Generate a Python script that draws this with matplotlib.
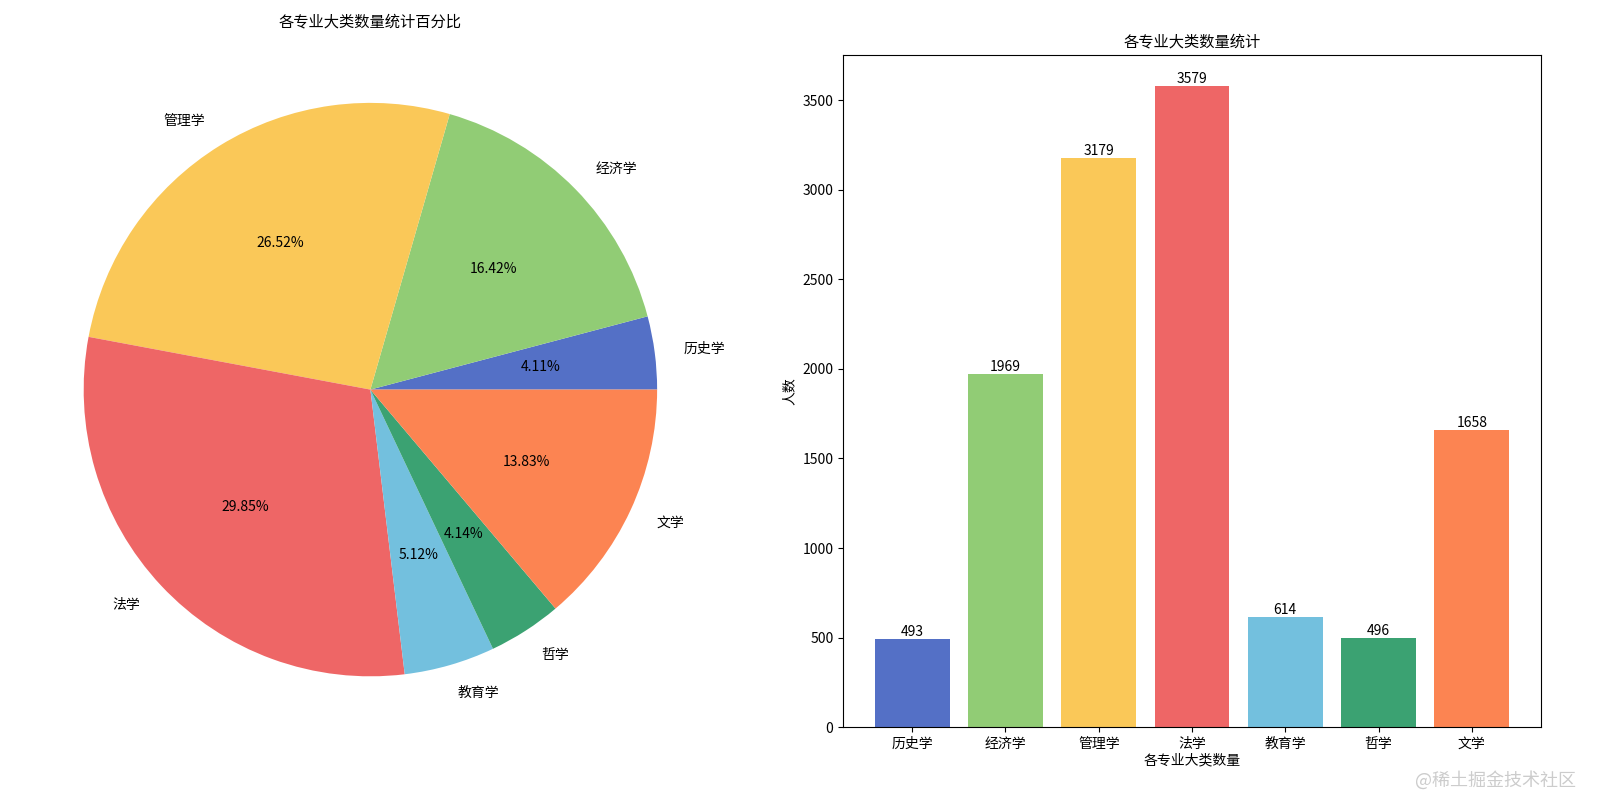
import matplotlib.pyplot as plt

plt.rcParams['font.family'] = 'Noto Sans CJK SC'

categories = ['历史学', '经济学', '管理学', '法学', '教育学', '哲学', '文学']
counts = [493, 1969, 3179, 3579, 614, 496, 1658]
colors = ['#5470c6', '#91cc75', '#fac858', '#ee6666', '#73c0de', '#3ba272', '#fc8452']

fig = plt.figure(figsize=(16, 8), dpi=100)

# 饼图
ax1 = fig.add_axes([0.0075, 0.065, 0.448, 0.896])
ax1.pie(counts, labels=categories, colors=colors, autopct='%.2f%%',
        textprops={'fontsize': 10})
ax1.set_aspect('equal')
fig.text(370 / 1600, 1 - 22 / 800, '各专业大类数量统计百分比', ha='center', va='center', fontsize=11)

# 柱状图
ax2 = fig.add_axes([0.527, 0.091, 0.436, 0.84])
bars = ax2.bar(categories, counts, color=colors)
for b, v in zip(bars, counts):
    ax2.text(b.get_x() + b.get_width() / 2, v, str(v), ha='center', va='bottom', fontsize=10)
ax2.set_title('各专业大类数量统计', fontsize=11)
ax2.set_xlabel('各专业大类数量', fontsize=10, labelpad=2)
ax2.set_ylabel('人数', fontsize=10)
ax2.set_ylim(0, 3750)

fig.text(0.985, 0.025, '@稀土掘金技术社区', ha='right', va='center',
         fontsize=13, color='#cccccc')

fig.savefig('out.png')
